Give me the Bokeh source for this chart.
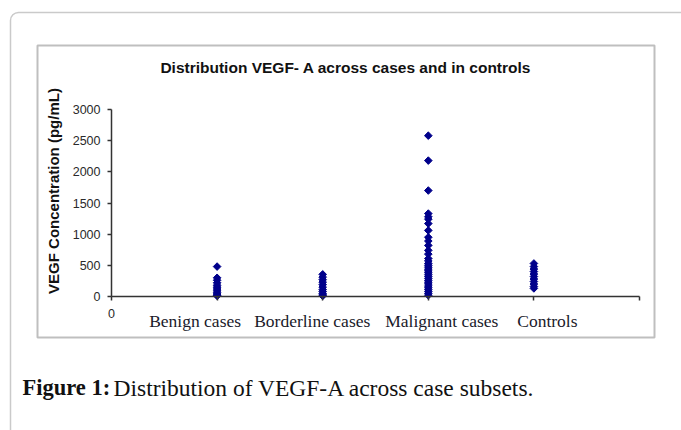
import math
from bokeh.plotting import figure
from bokeh.models import Range1d, FixedTicker, BoxAnnotation, Label
from bokeh.embed import file_html
from bokeh.resources import INLINE

# ---- data ----
categories = ["Benign cases", "Borderline cases", "Malignant cases", "Controls"]
benign = [480, 300, 260, 220, 180, 150, 120, 90, 60, 40, 20, 10]
borderline = [355, 310, 270, 230, 190, 150, 110, 80, 50, 25, 10]
malignant = [2580, 2180, 1700, 1330, 1280, 1240, 1170, 1060, 950, 890, 820,
             740, 680, 610, 570, 530, 500, 470, 440, 410, 380, 350, 320, 290,
             260, 230, 200, 170, 140, 110, 80, 50, 20]
controls = [530, 480, 440, 400, 360, 320, 280, 240, 200, 160, 130]
series = [benign, borderline, malignant, controls]
y_ticks = [0, 500, 1000, 1500, 2000, 2500, 3000]
y_max = 3000

title_text = "Distribution VEGF- A across cases and in controls"
y_label = "VEGF Concentration (pg/mL)"
caption_bold = "Figure 1:"
caption_text = "Distribution of VEGF-A across case subsets."

# ---- layout (pixels) ----
W, H = 681, 430
ax_left, ax_right = 111, 639      # pixel x of x=0 and x=n+1
ax_bottom, ax_top = 296, 109      # pixel y of y=0 and y=y_max
x_end = len(categories) + 1
kx = (ax_right - ax_left) / x_end
ky = (ax_bottom - ax_top) / y_max
cat_label_offsets = [-22, -10.5, 13.5, 13.5]   # label shifts from ticks (px)

p = figure(width=W, height=H, output_backend="svg", toolbar_location=None,
           title_location=None,
           x_range=Range1d(-ax_left / kx, (W - ax_left) / kx),
           y_range=Range1d(-(H - ax_bottom) / ky, ax_bottom / ky),
           min_border_left=0, min_border_right=0,
           min_border_top=0, min_border_bottom=0)
p.outline_line_color = None
p.xgrid.visible = False
p.ygrid.visible = False
p.background_fill_color = "white"
p.border_fill_color = "white"

def sy(ref_y):
    return H - ref_y

# outer rounded box and inner chart box
outer = BoxAnnotation(left=10, right=W + 50, top=sy(12), bottom=-50,
                      left_units="screen", right_units="screen",
                      top_units="screen", bottom_units="screen",
                      fill_alpha=0, line_color="#505050", line_width=1.5,
                      border_radius=8, level="underlay")
inner = BoxAnnotation(left=37, right=654, top=sy(45), bottom=sy(337),
                      left_units="screen", right_units="screen",
                      top_units="screen", bottom_units="screen",
                      fill_alpha=0, line_color="#2a2a2a", line_width=2,
                      level="underlay")
p.add_layout(outer)
p.add_layout(inner)

for i, vals in enumerate(series):
    p.scatter([i + 1] * len(vals), vals, marker="square", angle=math.pi / 4,
              size=5.4, fill_color="#00008B", line_color="#00008B")

# y axis
ya = p.yaxis[0]
ya.fixed_location = 0
ya.bounds = (0, y_max)
ya.ticker = FixedTicker(ticks=y_ticks)
ya.axis_line_color = "#333333"
ya.axis_line_width = 1.5
ya.major_tick_line_color = "#333333"
ya.major_tick_line_width = 1.5
ya.major_tick_out = 4
ya.major_tick_in = 0
ya.minor_tick_line_color = None
ya.major_label_text_font = "Liberation Sans"
ya.major_label_text_font_size = "12.5px"
ya.major_label_text_color = "#2a2a2a"
ya.major_label_standoff = 7

p.add_layout(Label(x=53, y=sy(190.5), x_units="screen", y_units="screen",
                   text=y_label, angle=math.pi / 2, text_font="Liberation Sans",
                   text_font_style="bold", text_font_size="15px",
                   text_color="#111111", text_align="center",
                   text_baseline="middle"))

# x axis
xa = p.xaxis[0]
xa.fixed_location = 0
xa.bounds = (0, x_end)
xa.ticker = FixedTicker(ticks=list(range(x_end + 1)))
xa.major_label_overrides = {t: "" for t in range(x_end + 1)}
xa.axis_line_color = "#333333"
xa.axis_line_width = 1.5
xa.major_tick_line_color = "#333333"
xa.major_tick_line_width = 1.5
xa.major_tick_out = 4
xa.major_tick_in = 0
xa.minor_tick_line_color = None

for i, c in enumerate(categories):
    p.add_layout(Label(x=i + 1, y=sy(320.5), x_units="data", y_units="screen",
                       x_offset=cat_label_offsets[i], text=c,
                       text_font="Liberation Serif", text_font_size="17.5px",
                       text_color="#1a1a2a", text_align="center",
                       text_baseline="alphabetic"))

p.add_layout(Label(x=0, y=sy(313), x_units="data", y_units="screen", text="0",
                   text_font="Liberation Sans", text_font_size="12.5px",
                   text_color="#2a2a2a", text_align="center",
                   text_baseline="middle"))

# chart title
p.add_layout(Label(x=345.5, y=sy(67), x_units="screen", y_units="screen",
                   text=title_text, text_font="Liberation Sans",
                   text_font_style="bold", text_font_size="15.5px",
                   text_color="#111111", text_align="center",
                   text_baseline="middle"))

# figure caption
p.add_layout(Label(x=22, y=sy(387), x_units="screen", y_units="screen",
                   text=caption_bold, text_font="Liberation Serif",
                   text_font_style="bold", text_font_size="22.5px",
                   text_color="#111111", text_align="left",
                   text_baseline="alphabetic"))
p.add_layout(Label(x=113, y=sy(387), x_units="screen", y_units="screen",
                   text=caption_text, text_font="Liberation Serif",
                   text_font_size="23.5px", text_color="#111111",
                   text_align="left", text_baseline="alphabetic"))

open("out.html", "w").write(file_html(p, INLINE))
